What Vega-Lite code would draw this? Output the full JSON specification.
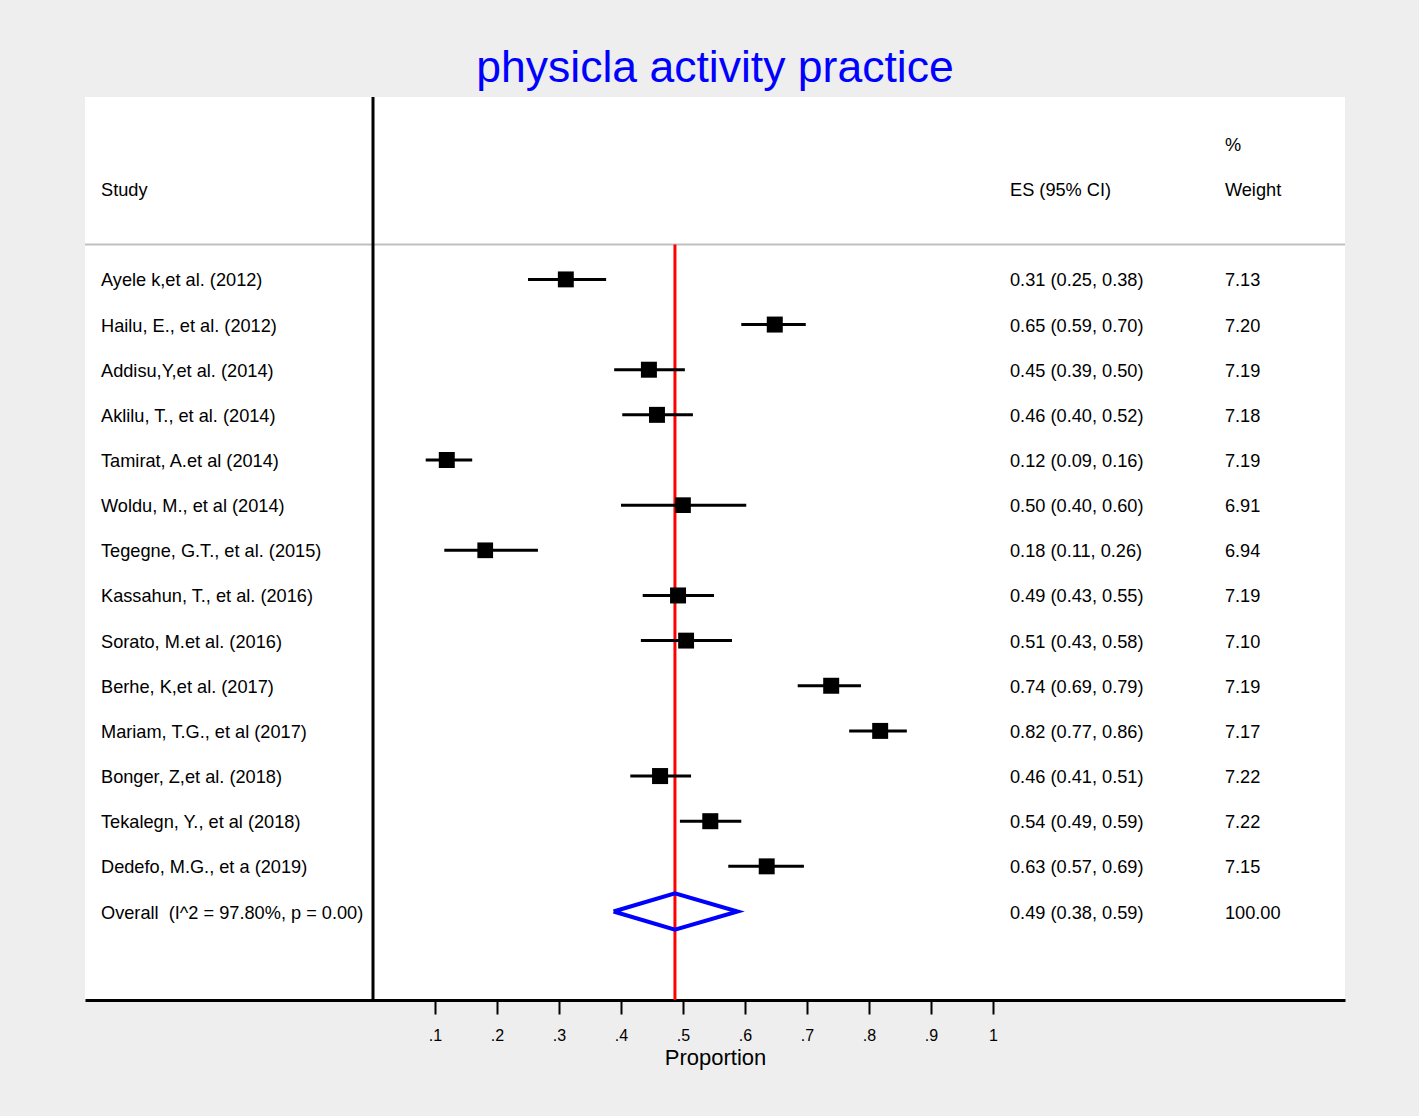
{
  "$schema": "https://vega.github.io/schema/vega-lite/v6.json",
  "autosize": {"type": "none"},
  "padding": {"left": 85, "top": 97, "right": 74, "bottom": 116},
  "width": 1260,
  "height": 903,
  "background": "#EEEEEE",
  "title": {
    "text": "physicla activity practice",
    "color": "#0000FF",
    "fontSize": 44.5,
    "font": "Liberation Sans",
    "fontWeight": "normal",
    "anchor": "middle",
    "offset": 4
  },
  "config": {
    "view": {"stroke": null, "fill": "white"},
    "font": "Liberation Sans",
    "text": {"font": "Liberation Sans", "fontSize": 18.2, "color": "black", "align": "left", "baseline": "middle", "dy": 2}
  },
  "datasets": {
    "studies": [
      {"row": 1, "study": "Ayele k,et al. (2012)", "es": 0.311, "lo": 0.25, "hi": 0.376, "w": 7.13, "estxt": "0.31 (0.25, 0.38)", "wtxt": "7.13"},
      {"row": 2, "study": "Hailu, E., et al. (2012)", "es": 0.648, "lo": 0.594, "hi": 0.698, "w": 7.20, "estxt": "0.65 (0.59, 0.70)", "wtxt": "7.20"},
      {"row": 3, "study": "Addisu,Y,et al. (2014)", "es": 0.445, "lo": 0.389, "hi": 0.503, "w": 7.19, "estxt": "0.45 (0.39, 0.50)", "wtxt": "7.19"},
      {"row": 4, "study": "Aklilu, T., et al. (2014)", "es": 0.458, "lo": 0.402, "hi": 0.516, "w": 7.18, "estxt": "0.46 (0.40, 0.52)", "wtxt": "7.18"},
      {"row": 5, "study": "Tamirat, A.et al (2014)", "es": 0.119, "lo": 0.085, "hi": 0.160, "w": 7.19, "estxt": "0.12 (0.09, 0.16)", "wtxt": "7.19"},
      {"row": 6, "study": "Woldu, M., et al (2014)", "es": 0.500, "lo": 0.400, "hi": 0.602, "w": 6.91, "estxt": "0.50 (0.40, 0.60)", "wtxt": "6.91"},
      {"row": 7, "study": "Tegegne, G.T., et al. (2015)", "es": 0.181, "lo": 0.115, "hi": 0.266, "w": 6.94, "estxt": "0.18 (0.11, 0.26)", "wtxt": "6.94"},
      {"row": 8, "study": "Kassahun, T., et al. (2016)", "es": 0.492, "lo": 0.435, "hi": 0.550, "w": 7.19, "estxt": "0.49 (0.43, 0.55)", "wtxt": "7.19"},
      {"row": 9, "study": "Sorato, M.et al. (2016)", "es": 0.505, "lo": 0.432, "hi": 0.579, "w": 7.10, "estxt": "0.51 (0.43, 0.58)", "wtxt": "7.10"},
      {"row": 10, "study": "Berhe, K,et al. (2017)", "es": 0.739, "lo": 0.685, "hi": 0.787, "w": 7.19, "estxt": "0.74 (0.69, 0.79)", "wtxt": "7.19"},
      {"row": 11, "study": "Mariam, T.G., et al (2017)", "es": 0.818, "lo": 0.768, "hi": 0.861, "w": 7.17, "estxt": "0.82 (0.77, 0.86)", "wtxt": "7.17"},
      {"row": 12, "study": "Bonger, Z,et al. (2018)", "es": 0.463, "lo": 0.415, "hi": 0.513, "w": 7.22, "estxt": "0.46 (0.41, 0.51)", "wtxt": "7.22"},
      {"row": 13, "study": "Tekalegn, Y., et al (2018)", "es": 0.544, "lo": 0.495, "hi": 0.594, "w": 7.22, "estxt": "0.54 (0.49, 0.59)", "wtxt": "7.22"},
      {"row": 14, "study": "Dedefo, M.G., et a (2019)", "es": 0.635, "lo": 0.573, "hi": 0.695, "w": 7.15, "estxt": "0.63 (0.57, 0.69)", "wtxt": "7.15"},
      {"row": 15, "study": "Overall\u00a0 (I^2 = 97.80%, p = 0.00)", "es": null, "lo": null, "hi": null, "w": null, "estxt": "0.49 (0.38, 0.59)", "wtxt": "100.00"}
    ],
    "diamond": [
      {"ord": 1, "x": 0.388, "y": 15},
      {"ord": 2, "x": 0.487, "y": 14.6},
      {"ord": 3, "x": 0.588, "y": 15},
      {"ord": 4, "x": 0.487, "y": 15.4},
      {"ord": 5, "x": 0.388, "y": 15}
    ],
    "one": [{}]
  },
  "encoding": {
    "x": {
      "type": "quantitative",
      "scale": {"domain": [-0.4645, 1.5677], "nice": false, "zero": false},
      "axis": {
        "title": "Proportion",
        "values": [0.1, 0.2, 0.3, 0.4, 0.5, 0.6, 0.7, 0.8, 0.9, 1],
        "labelExpr": "datum.value == 1 ? '1' : replace(format(datum.value, '.1f'), '0.', '.')",
        "grid": false,
        "domainColor": "black",
        "domainWidth": 3,
        "tickColor": "black",
        "tickWidth": 2,
        "tickSize": 14,
        "labelFont": "Liberation Sans",
        "labelFontSize": 16,
        "labelColor": "black",
        "labelPadding": 13,
        "titleFont": "Liberation Sans",
        "titleFontSize": 22,
        "titleFontWeight": "normal",
        "titleColor": "black",
        "titlePadding": 4
      }
    },
    "y": {
      "type": "quantitative",
      "scale": {"domain": [-3.04, 16.96], "reverse": true, "nice": false, "zero": false},
      "axis": null
    }
  },
  "layer": [
    {
      "data": {"name": "one"},
      "mark": {"type": "rule", "color": "#C0C0C0", "strokeWidth": 2},
      "encoding": {"y": {"datum": 0.225}}
    },
    {
      "data": {"name": "one"},
      "mark": {"type": "rule", "color": "black", "strokeWidth": 3},
      "encoding": {"x": {"datum": 0}}
    },
    {
      "data": {"name": "one"},
      "mark": {"type": "rule", "color": "#FF0000", "strokeWidth": 3},
      "encoding": {"x": {"datum": 0.487}, "y": {"datum": 0.225}, "y2": {"datum": 16.96}}
    },
    {
      "data": {"name": "studies"},
      "transform": [{"filter": "datum.es != null"}],
      "mark": {"type": "rule", "color": "black", "strokeWidth": 3},
      "encoding": {"x": {"field": "lo"}, "x2": {"field": "hi"}, "y": {"field": "row"}}
    },
    {
      "data": {"name": "studies"},
      "transform": [{"filter": "datum.es != null"}],
      "mark": {"type": "point", "shape": "square", "filled": true, "color": "black", "opacity": 1},
      "encoding": {
        "x": {"field": "es"},
        "y": {"field": "row"},
        "size": {"field": "w", "type": "quantitative", "scale": {"domain": [0, 7.2], "range": [0, 256]}, "legend": null}
      }
    },
    {
      "data": {"name": "diamond"},
      "mark": {"type": "line", "color": "#0000FF", "strokeWidth": 4, "strokeJoin": "miter"},
      "encoding": {"x": {"field": "x"}, "y": {"field": "y"}, "order": {"field": "ord", "type": "quantitative"}}
    },
    {
      "data": {"name": "studies"},
      "mark": {"type": "text"},
      "encoding": {"x": {"datum": -0.4387}, "y": {"field": "row"}, "text": {"field": "study"}}
    },
    {
      "data": {"name": "studies"},
      "mark": {"type": "text"},
      "encoding": {"x": {"datum": 1.0274}, "y": {"field": "row"}, "text": {"field": "estxt"}}
    },
    {
      "data": {"name": "studies"},
      "mark": {"type": "text"},
      "encoding": {"x": {"datum": 1.374}, "y": {"field": "row"}, "text": {"field": "wtxt"}}
    },
    {
      "data": {"name": "one"},
      "mark": {"type": "text"},
      "encoding": {"x": {"datum": -0.4387}, "y": {"datum": -1}, "text": {"value": "Study"}}
    },
    {
      "data": {"name": "one"},
      "mark": {"type": "text"},
      "encoding": {"x": {"datum": 1.0274}, "y": {"datum": -1}, "text": {"value": "ES (95% CI)"}}
    },
    {
      "data": {"name": "one"},
      "mark": {"type": "text"},
      "encoding": {"x": {"datum": 1.374}, "y": {"datum": -2}, "text": {"value": "%"}}
    },
    {
      "data": {"name": "one"},
      "mark": {"type": "text"},
      "encoding": {"x": {"datum": 1.374}, "y": {"datum": -1}, "text": {"value": "Weight"}}
    }
  ]
}
